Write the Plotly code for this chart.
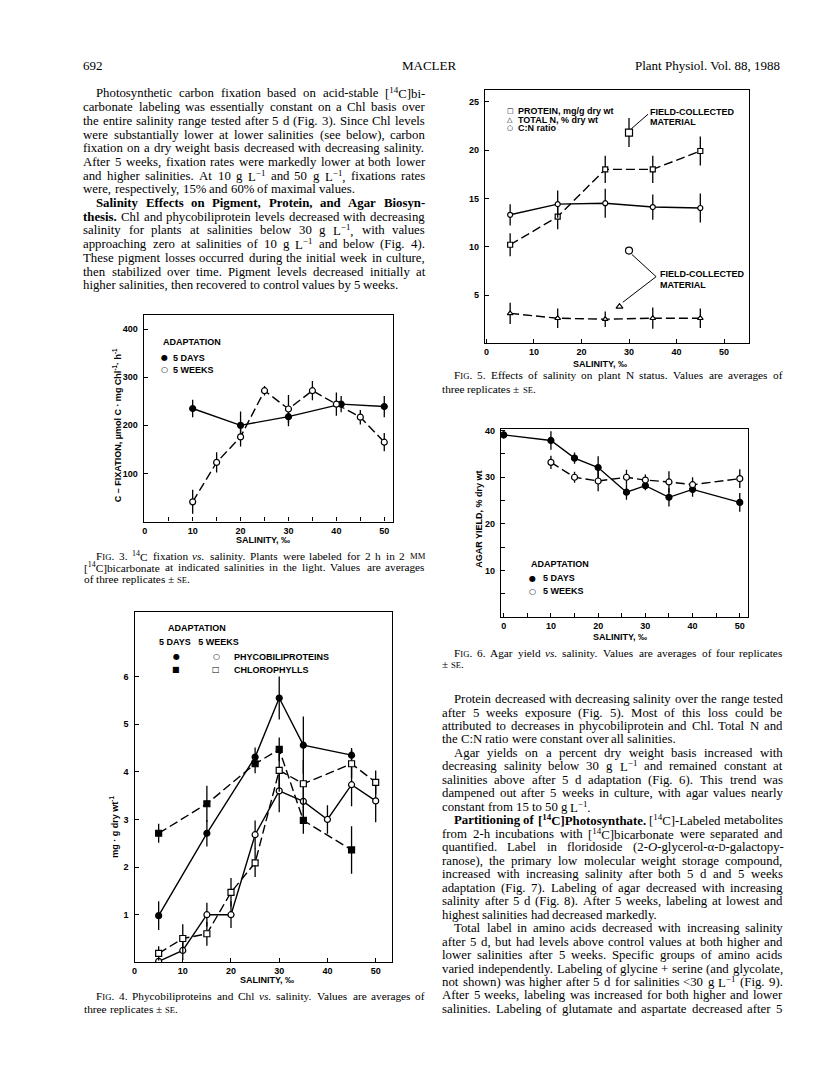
import re
import plotly.graph_objects as go

W, H = 816, 1073
SANS = "Liberation Sans"
SERIF = "Liberation Serif"

# ---------------- Fig. 3 : 14C fixation vs salinity
sal3_days = [10, 20, 30, 41, 50]
fix_days = [235, 200, 218, 244, 239]
fix_days_se = [18, 29, 20, 17, 22]
sal3_weeks = [10, 15, 20, 25, 30, 35, 40, 45, 50]
fix_weeks = [41, 123, 176, 272, 234, 272, 244, 217, 165]
fix_weeks_se = [25, 21, 20, 10, 29, 20, 24, 15, 19]

# ---------------- Fig. 4 : pigments vs salinity
sal4_days = [5, 15, 25, 30, 35, 45]
phyco_days = [0.98, 2.71, 4.31, 5.55, 4.56, 4.35]
phyco_days_se = [0.3, 0.28, 0.2, 0.45, 0.6, 0.15]
chl_days = [2.71, 3.33, 4.17, 4.47, 2.98, 2.36]
chl_days_se = [0.2, 0.38, 0.2, 0.25, 0.28, 0.5]
sal4_phyco_weeks = [5, 10, 15, 20, 25, 30, 35, 40, 45, 50]
phyco_weeks = [0.02, 0.25, 1.0, 1.0, 2.68, 3.6, 3.38, 3.0, 3.73, 3.39]
phyco_weeks_se = [0, 0.2, 0.25, 0.28, 0.3, 0.45, 0.45, 0.3, 0.45, 0.45]
sal4_chl_weeks = [5, 10, 15, 20, 25, 30, 35, 45, 50]
chl_weeks = [0.19, 0.5, 0.6, 1.47, 2.09, 4.03, 3.75, 4.17, 3.78]
chl_weeks_se = [0.15, 0.3, 0.25, 0.3, 0.3, 0.45, 0.5, 0.3, 0.25]

# ---------------- Fig. 5 : plant N status
sal5 = [5, 15, 25, 35, 45]
protein = [10.2, 13.1, 18.0, 18.0, 19.9]
protein_se = [1.2, 1.3, 1.4, 1.4, 1.5]
cn_ratio = [13.3, 14.4, 14.5, 14.1, 14.0]
cn_se = [1.1, 1.4, 1.5, 1.3, 1.5]
total_n = [3.1, 2.6, 2.5, 2.6, 2.6]
total_n_se = [1.1, 1.0, 0.8, 1.1, 1.0]
field_protein_sal, field_protein, field_protein_se = [30], [21.8], [1.5]
field_cn_sal, field_cn = [30], [9.6]
field_n_sal, field_n = [28], [3.8]

# ---------------- Fig. 6 : agar yield
sal6_days = [0, 10, 15, 20, 26, 30, 35, 40, 50]
agar_days = [39.1, 37.9, 34.1, 32.1, 26.8, 28.2, 25.7, 27.4, 24.6]
agar_days_se = [0.8, 2.0, 1.2, 2.4, 1.6, 1.0, 2.0, 1.6, 2.0]
sal6_weeks = [10, 15, 20, 26, 30, 35, 40, 50]
agar_weeks = [33.2, 30.0, 29.2, 30.0, 29.4, 29.0, 28.4, 29.7]
agar_weeks_se = [1.4, 1.2, 2.2, 1.6, 1.2, 2.3, 1.6, 2.0]

# ---------------- page text
header_left, header_mid, header_right = "692", "MACLER", "Plant Physiol. Vol. 88, 1988"

left_text = [
    "Photosynthetic carbon fixation based on acid-stable [<sup>14</sup>C]bi-",
    "carbonate labeling was essentially constant on a Chl basis over",
    "the entire salinity range tested after 5 d (Fig. 3). Since Chl levels",
    "were substantially lower at lower salinities (see below), carbon",
    "fixation on a dry weight basis decreased with decreasing salinity.",
    "After 5 weeks, fixation rates were markedly lower at both lower",
    "and higher salinities. At 10 g L<sup>−1</sup> and 50 g L<sup>−1</sup>, fixations rates",
    "were, respectively, 15% and 60% of maximal values.",
    "<b>Salinity Effects on Pigment, Protein, and Agar Biosyn-</b>",
    "<b>thesis.</b> Chl and phycobiliprotein levels decreased with decreasing",
    "salinity for plants at salinities below 30 g L<sup>−1</sup>, with values",
    "approaching zero at salinities of 10 g L<sup>−1</sup> and below (Fig. 4).",
    "These pigment losses occurred during the initial week in culture,",
    "then stabilized over time. Pigment levels decreased initially at",
    "higher salinities, then recovered to control values by 5 weeks.",
]
left_indent = {0, 8}
left_end = {7, 14}

right_text = [
    "Protein decreased with decreasing salinity over the range tested",
    "after 5 weeks exposure (Fig. 5). Most of this loss could be",
    "attributed to decreases in phycobiliprotein and Chl. Total N and",
    "the C:N ratio were constant over all salinities.",
    "Agar yields on a percent dry weight basis increased with",
    "decreasing salinity below 30 g L<sup>−1</sup> and remained constant at",
    "salinities above after 5 d adaptation (Fig. 6). This trend was",
    "dampened out after 5 weeks in culture, with agar values nearly",
    "constant from 15 to 50 g L<sup>−1</sup>.",
    "<b>Partitioning of [<sup>14</sup>C]Photosynthate.</b> [<sup>14</sup>C]-Labeled metabolites",
    "from 2-h incubations with [<sup>14</sup>C]bicarbonate were separated and",
    "quantified. Label in floridoside (2-<i>O</i>-glycerol-α-{D}-galactopy-",
    "ranose), the primary low molecular weight storage compound,",
    "increased with increasing salinity after both 5 d and 5 weeks",
    "adaptation (Fig. 7). Labeling of agar decreased with increasing",
    "salinity after 5 d (Fig. 8). After 5 weeks, labeling at lowest and",
    "highest salinities had decreased markedly.",
    "Total label in amino acids decreased with increasing salinity",
    "after 5 d, but had levels above control values at both higher and",
    "lower salinities after 5 weeks. Specific groups of amino acids",
    "varied independently. Labeling of glycine + serine (and glycolate,",
    "not shown) was higher after 5 d for salinities &lt;30 g L<sup>−1</sup> (Fig. 9).",
    "After 5 weeks, labeling was increased for both higher and lower",
    "salinities. Labeling of glutamate and aspartate decreased after 5",
]
right_indent = {0, 4, 9, 17}
right_end = {3, 8, 16}

cap3 = ["F{IG}. 3. <sup>14</sup>C fixation <i>vs.</i> salinity. Plants were labeled for 2 h in 2 {MM}",
        "[<sup>14</sup>C]bicarbonate at indicated salinities in the light. Values are averages",
        "of three replicates ± {SE}."]
cap4 = ["F{IG}. 4. Phycobiliproteins and Chl <i>vs.</i> salinity. Values are averages of",
        "three replicates ± {SE}."]
cap5 = ["F{IG}. 5. Effects of salinity on plant N status. Values are averages of",
        "three replicates ± {SE}."]
cap6 = ["F{IG}. 6. Agar yield <i>vs.</i> salinity. Values are averages of four replicates",
        "± {SE}."]

# Times-Roman / Times-Bold advance widths (1/1000 em)
TW = {' ': 250, '%': 833, '(': 333, ')': 333, '+': 564, ',': 250, '-': 333, '.': 250,
      '/': 278, ':': 278, ';': 278, '<': 564, '[': 333, ']': 333,
      'A': 722, 'B': 667, 'C': 667, 'D': 722, 'E': 611, 'F': 556, 'G': 722, 'H': 722,
      'I': 333, 'J': 389, 'K': 722, 'L': 611, 'M': 889, 'N': 722, 'O': 722, 'P': 556,
      'Q': 722, 'R': 667, 'S': 556, 'T': 611, 'U': 722, 'V': 722, 'W': 944, 'X': 722,
      'Y': 722, 'Z': 611, 'a': 444, 'b': 500, 'c': 444, 'd': 500,
      'e': 444, 'f': 333, 'g': 500, 'h': 500, 'i': 278, 'j': 278, 'k': 500, 'l': 278,
      'm': 778, 'n': 500, 'o': 500, 'p': 500, 'q': 500, 'r': 333, 's': 389, 't': 278,
      'u': 500, 'v': 500, 'w': 722, 'x': 500, 'y': 500, 'z': 444, '±': 564, '−': 564,
      'α': 500, '\x01': 564}
TWB = dict(TW)
TWB.update({'A': 722, 'B': 667, 'C': 722, 'D': 722, 'E': 667, 'F': 611, 'G': 778, 'H': 778,
            'I': 389, 'L': 667, 'M': 944, 'N': 722, 'O': 778, 'P': 611, 'R': 722, 'S': 556,
            'T': 667, 'a': 500, 'b': 556, 'd': 556, 'h': 556, 'j': 333, 'k': 556, 'm': 833,
            'n': 556, 'p': 556, 'q': 556, 'r': 444, 't': 333, 'u': 556})
for d in "0123456789":
    TW[d] = 500
    TWB[d] = 500


def px(x):
    return x / W


def py(y):
    return 1 - y / H


fig = go.Figure()


def text_width(s, size):
    s = s.replace('&lt;', '\x01')
    stack = [(1.0, False)]
    w = 0.0
    for tok in re.split(r'(<[^>]+>)', s):
        mult, bold = stack[-1]
        if tok.startswith('</'):
            stack.pop()
        elif tok.startswith('<'):
            m = re.search(r'font-size:([\d.]+)px', tok)
            if m:
                stack.append((float(m.group(1)) / size, bold))
            elif tok == '<sup>':
                stack.append((mult * 0.7, bold))
            elif tok == '<b>':
                stack.append((mult, True))
            elif tok == '<i>':
                stack.append((mult * 0.97, bold))
            else:
                stack.append((mult, bold))
        else:
            table = TWB if bold else TW
            for ch in tok:
                w += table.get(ch, 500) * mult
    return w * size / 1000


def split_words(s):
    out, stack = [], []
    for w in re.split(r' (?![^<]*>)', s):
        pre = ''.join(stack)
        for m in re.finditer(r'<(/?)(\w+)[^>]*>', w):
            if m.group(1):
                stack.pop()
            else:
                stack.append(m.group(0))
        post = ''.join('</' + re.match(r'<(\w+)', t).group(1) + '>' for t in reversed(stack))
        out.append(pre + w + post)
    return out


def text_line(x0, x1, y, s, size, justify):
    s = re.sub(r'\{([^}]*)\}',
               lambda m: "<span style='font-size:%.1fpx'>%s</span>" % (size * 0.76, m.group(1)), s)
    words = split_words(s)
    widths = [text_width(w, size) for w in words]
    gap = 0.25 * size
    if justify and len(words) > 1:
        gap = max((x1 - x0 - sum(widths)) / (len(words) - 1), 0.18 * size)
    x = x0
    for w, wd in zip(words, widths):
        fig.add_annotation(xref='paper', yref='paper', x=px(x), y=py(y), text=w,
                           showarrow=False, xanchor='left', yanchor='middle', borderpad=0,
                           font=dict(family=SERIF, size=size, color='black'))
        x += wd + gap


def label(x, y, text, size=9, anchor='left', angle=0, family=SANS, weight='bold'):
    fig.add_annotation(xref='paper', yref='paper', x=px(x), y=py(y), text=text,
                       showarrow=False, xanchor=anchor, yanchor='middle', textangle=angle,
                       borderpad=0, font=dict(family=family, size=size, color='black', weight=weight))


def series(x, y, se, n, filled, dashed, symbol='circle', size=6, mode='lines+markers'):
    fig.add_trace(go.Scatter(
        x=x, y=y, xaxis='x%d' % n, yaxis='y%d' % n, mode=mode,
        line=dict(color='black', width=1.4, dash='9px,4px' if dashed else 'solid'),
        marker=dict(symbol=symbol, size=size, color='black' if filled else 'white',
                    line=dict(color='black', width=1.2)),
        error_y=dict(type='data', array=se, visible=se is not None, color='black',
                     thickness=1.3, width=0),
        showlegend=False, hoverinfo='skip'))


# Fig 3
series(sal3_days, fix_days, fix_days_se, 1, True, False)
series(sal3_weeks, fix_weeks, fix_weeks_se, 1, False, True)
# Fig 4
series(sal4_days, phyco_days, phyco_days_se, 2, True, False)
series(sal4_days, chl_days, chl_days_se, 2, True, True, 'square')
series(sal4_phyco_weeks, phyco_weeks, phyco_weeks_se, 2, False, False)
series(sal4_chl_weeks, chl_weeks, chl_weeks_se, 2, False, True, 'square')
# Fig 5
series(sal5, protein, protein_se, 3, False, True, 'square', 5)
series(sal5, cn_ratio, cn_se, 3, False, False, 'circle', 5)
series(sal5, total_n, total_n_se, 3, False, True, 'triangle-up', 5)
series(field_protein_sal, field_protein, field_protein_se, 3, False, False, 'square', 7, 'markers')
series(field_cn_sal, field_cn, None, 3, False, False, 'circle', 7, 'markers')
series(field_n_sal, field_n, None, 3, False, False, 'triangle-up', 6, 'markers')
# Fig 6
series(sal6_days, agar_days, agar_days_se, 4, True, False)
series(sal6_weeks, agar_weeks, agar_weeks_se, 4, False, True)

TICKFONT = dict(family=SANS, size=9, color='black', weight='bold')


def axis(left, right, rng, vals, minor=None, anchor='y', standoff=2):
    d = dict(domain=[px(left), px(right)], range=rng, tickvals=vals, anchor=anchor,
             showline=True, mirror=True, linecolor='black', linewidth=1.4,
             ticks='inside', ticklen=4, tickwidth=1.2, tickcolor='black',
             showgrid=False, zeroline=False, tickfont=TICKFONT, ticklabelstandoff=standoff,
             fixedrange=True)
    if minor:
        d['minor'] = dict(tickvals=minor, ticks='inside', ticklen=4, tickwidth=1.2,
                          tickcolor='black', showgrid=False)
    return d


def yax(top, bottom, rng, vals, minor, anchor):
    d = axis(0, 1, rng, vals, minor, anchor, 3)
    d['domain'] = [py(bottom), py(top)]
    return d


tens = [0, 10, 20, 30, 40, 50]
fives = [5, 15, 25, 35, 45]

fig.update_layout(
    width=W, height=H, margin=dict(l=0, r=0, t=0, b=0),
    paper_bgcolor='white', plot_bgcolor='white', showlegend=False,
    xaxis=axis(133.3, 383.3, [-0.2, 51.8], tens, fives, 'y', 0),
    yaxis=yax(305, 512, [0, 429], [100, 200, 300, 400], None, 'x'),
    xaxis2=axis(124, 382, [0, 53.3], tens, None, 'y2', 0),
    yaxis2=yax(603, 954, [0, 7.35], [1, 2, 3, 4, 5, 6], None, 'x2'),
    xaxis3=axis(475.7, 741, [-0.3, 55.3], tens, None, 'y3', 0),
    yaxis3=yax(79.3, 333.3, [0, 26.2], [5, 10, 15, 20, 25], None, 'x3'),
    xaxis4=axis(491.7, 740, [-0.6, 51.8], tens, fives, 'y4', 0),
    yaxis4=yax(419, 607.7, [0, 40.4], [10, 20, 30, 40], [5, 15, 25, 35], 'x4'),
)

# field-collected pointers (Fig 5)
fig.add_shape(type='path', xref='x3', yref='y3', path='M 30.5 22.2 L 34.0 23.7',
              line=dict(color='black', width=1))
fig.add_shape(type='path', xref='x3', yref='y3', path='M 30.6 9.2 L 35.7 6.9 L 28.7 4.25',
              line=dict(color='black', width=1))
label(640, 101.7, 'FIELD-COLLECTED')
label(640, 111.7, 'MATERIAL')
label(650, 263.3, 'FIELD-COLLECTED')
label(650, 275, 'MATERIAL')

# legends
GLYPH = "DejaVu Sans"
label(151.7, 331.7, 'ADAPTATION')
label(154.3, 347.7, '●', 8, 'center', family=GLYPH, weight='normal')
label(161.7, 347.7, '5 DAYS')
label(154.3, 360, '○', 8, 'center', family=GLYPH, weight='normal')
label(161.7, 360, '5 WEEKS')

label(156.7, 618.3, 'ADAPTATION')
label(147.3, 632.3, '5 DAYS   5 WEEKS')
label(166, 647.5, '●', 8, 'center', family=GLYPH, weight='normal')
label(166, 660.3, '■', 8, 'center', family=GLYPH, weight='normal')
label(206, 647.5, '○', 8, 'center', family=GLYPH, weight='normal')
label(206, 660.3, '□', 8, 'center', family=GLYPH, weight='normal')
label(223.3, 647.8, 'PHYCOBILIPROTEINS')
label(223.3, 660.5, 'CHLOROPHYLLS')

label(501, 100.7, '□', 7, 'center', family=GLYPH, weight='normal')
label(508.3, 100.7, 'PROTEIN, mg/g dry wt')
label(501, 109.3, '△', 7, 'center', family=GLYPH, weight='normal')
label(508.3, 109.3, 'TOTAL N, % dry wt')
label(501, 117.7, '○', 7, 'center', family=GLYPH, weight='normal')
label(508.3, 117.7, 'C:N ratio')

label(521, 554.3, 'ADAPTATION')
label(523, 568.7, '●', 8, 'center', family=GLYPH, weight='normal')
label(533, 568.7, '5 DAYS')
label(523, 581.7, '○', 8, 'center', family=GLYPH, weight='normal')
label(533, 581.7, '5 WEEKS')

# axis titles
label(253, 530.5, 'SALINITY, ‰', anchor='center')
label(256.7, 972, 'SALINITY, ‰', anchor='center')
label(591.5, 354, 'SALINITY, ‰', anchor='center')
label(611, 628, 'SALINITY, ‰', anchor='center')
label(106.7, 415, 'C – FIXATION, µmol C · mg Chl<sup>-1</sup>· h<sup>-1</sup>', anchor='center', angle=-90)
label(103.3, 818, 'mg · g dry wt<sup>-1</sup>', anchor='center', angle=-90)
label(469, 510, 'AGAR YIELD, % dry wt', anchor='center', angle=-90)

# page header
label(71.7, 55, header_left, 13, family=SERIF, weight='normal')
label(420, 55, header_mid, 13, 'center', family=SERIF, weight='normal')
label(773.3, 55, header_right, 13, 'right', family=SERIF, weight='normal')

# body text and captions
BODY, CAP = 12.8, 11.3
for i, s in enumerate(left_text):
    text_line(71.7 + (13 if i in left_indent else 0), 414.3, 82.7 + i * 13.74, s, BODY,
              i not in left_end)
for i, s in enumerate(right_text):
    text_line(431.7 + (12 if i in right_indent else 0), 773.3, 690 + i * 13.51, s, BODY,
              i not in right_end)


def caption(lines, x0, x1, y0, step):
    for i, s in enumerate(lines):
        text_line(x0 + (12 if i == 0 else 0), x1, y0 + i * step, s, CAP, i < len(lines) - 1)


caption(cap3, 72.5, 414.3, 546.7, 11.3)
caption(cap4, 72.5, 414.3, 987.7, 13)
caption(cap5, 431.7, 773.3, 365.5, 13.3)
caption(cap6, 431.7, 773.3, 643.3, 12)

fig.write_html("out.html")
